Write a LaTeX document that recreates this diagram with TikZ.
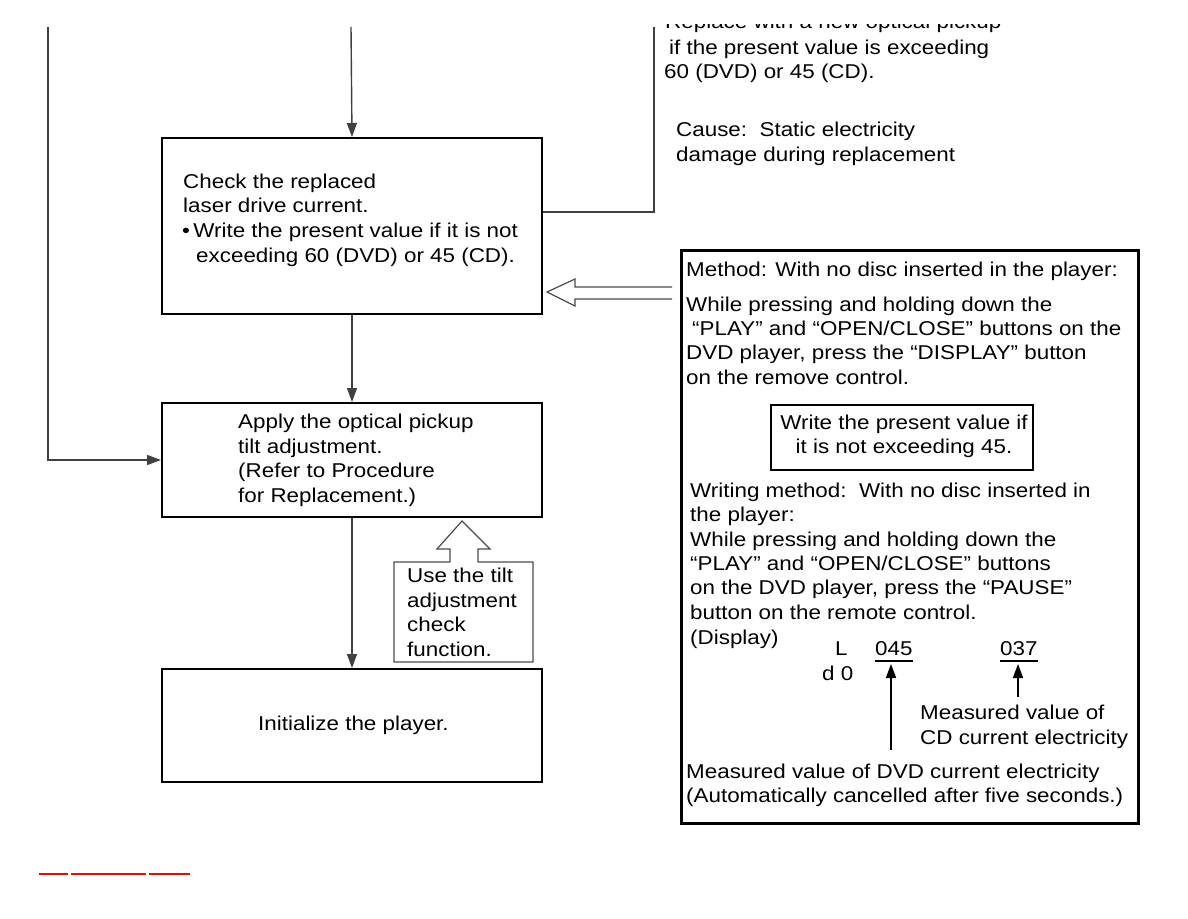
\documentclass[tikz,border=0pt]{standalone}
\usepackage{fontspec}
\setmainfont[FakeStretch=1.12]{Liberation Sans}
\usetikzlibrary{arrows.meta}
\begin{document}
\begin{tikzpicture}[x=1pt,y=-1pt,
  txt/.style={anchor=base west,inner sep=0pt,font=\fontsize{20}{24}\selectfont},
  boxline/.style={draw=black,line width=2pt},
  conn/.style={draw=black!75,line width=1.4pt},
  arr/.style={conn,-{Triangle[length=14pt,width=10pt]}},
  hollow/.style={draw=black!70,line width=1.2pt,fill=white}]
\useasboundingbox (0,0) rectangle (1188,918);
\begin{scope}
\clip (0,24) rectangle (1188,918);
% boxes
\node[boxline,minimum width=380pt,minimum height=176pt,anchor=north west,inner sep=0pt] (b1) at (161,137) {};
\node[boxline,minimum width=380pt,minimum height=114pt,anchor=north west,inner sep=0pt] (b2) at (161,402) {};
\node[boxline,minimum width=380pt,minimum height=113pt,anchor=north west,inner sep=0pt] (b3) at (161,668) {};
\node[draw=black,line width=2.6pt,minimum width=457pt,minimum height=573pt,anchor=north west,inner sep=0pt] (rb) at (680,249) {};
\node[boxline,minimum width=262pt,minimum height=65pt,anchor=north west,inner sep=0pt] (ib) at (770,404) {};
% coordinates for free ends
\coordinate (topA) at (351,27);
\coordinate (leftTop) at (48,27);
\coordinate (leftBot) at (48,460);
\coordinate (rTop) at (654,27);
\coordinate (rMid) at (654,212);
% connectors
\draw[arr] (topA) -- (b1.north);
\draw[arr] (leftTop) -- (leftBot) -- (b2.west |- leftBot);
\draw[conn] (b1.east |- rMid) -- (rMid) -- (rTop);
\draw[arr] (b1.south) -- (b2.north);
\draw[arr] (b2.south) -- (b3.north);
% hollow left arrow
\draw[hollow] (672,287) -- (575,287) -- (575,279) -- (547,292) -- (575,306) -- (575,299) -- (672,299);
% hollow up arrow with box
\draw[hollow] (394,562) -- (450,562) -- (450,549) -- (437,549) -- (462,521) -- (490,549) -- (478,549) -- (478,562) -- (533,562) -- (533,662) -- (394,662) -- cycle;
\node[txt] (u1) at (407,582) {Use the tilt};
\node[txt] (u2) at (407,607) {adjustment};
\node[txt] (u3) at (407,631) {check};
\node[txt] (u4) at (407,656) {function.};
% top right texts
\node[txt] (t0) at (665,28) {Replace with a new optical pickup};
\node[txt] (t1) at (669,54) {if the present value is exceeding};
\node[txt] (t2) at (664,78) {60 (DVD) or 45 (CD).};
\node[txt] (c1) at (676,136) {Cause:\ \ Static electricity};
\node[txt] (c2) at (676,161) {damage during replacement};
% box1 text
\node[txt] (a1) at (183,188) {Check the replaced};
\node[txt] (a2) at (183,212) {laser drive current.};
\node[txt] (a3) at (182,237) {\textbullet\,Write the present value if it is not};
\node[txt] (a4) at (196,262) {exceeding 60 (DVD) or 45 (CD).};
% box2 text
\node[txt] (p1) at (238,428) {Apply the optical pickup};
\node[txt] (p2) at (238,453) {tilt adjustment.};
\node[txt] (p3) at (238,477) {(Refer to Procedure};
\node[txt] (p4) at (238,502) {for Replacement.)};
% box3
\node[txt] (i1) at (258,730) {Initialize the player.};
% right box text
\node[txt] (m1) at (686,276) {Method: With no disc inserted in the player:};
\node[txt] (m2) at (686,311) {While pressing and holding down the};
\node[txt] (m3) at (692,335) {“PLAY” and “OPEN/CLOSE” buttons on the};
\node[txt] (m4) at (686,359) {DVD player, press the “DISPLAY” button};
\node[txt] (m5) at (686,384) {on the remove control.};
\node[txt,anchor=base] (w1) at (904,429) {Write the present value if};
\node[txt,anchor=base] (w2) at (904,453) {it is not exceeding 45.};
\node[txt] (n1) at (690,497) {Writing method:\ \ With no disc inserted in};
\node[txt] (n2) at (690,521) {the player:};
\node[txt] (n3) at (690,546) {While pressing and holding down the};
\node[txt] (n4) at (690,570) {“PLAY” and “OPEN/CLOSE” buttons};
\node[txt] (n5) at (690,594) {on the DVD player, press the “PAUSE”};
\node[txt] (n6) at (690,619) {button on the remote control.};
\node[txt] (n7) at (690,644) {(Display)};
\node[txt] (dL) at (835,655) {L};
\node[txt] (d0) at (822,680) {d 0};
\node[txt] (v1) at (875,655) {045};
\node[txt] (v2) at (1000,655) {037};
\draw[line width=1.4pt] (v1.west |- 0,661) -- (v1.east |- 0,661);
\draw[line width=1.4pt] (v2.west |- 0,661) -- (v2.east |- 0,661);
\coordinate (dvdA) at (891,750);
\coordinate (cdA) at (1018,697);
\draw[line width=1.6pt,-{Triangle[length=14pt,width=10pt]}] (dvdA) -- (891,664);
\draw[line width=1.6pt,-{Triangle[length=14pt,width=10pt]}] (cdA) -- (1018,664);
\node[txt] (cd1) at (920,719) {Measured value of};
\node[txt] (cd2) at (920,744) {CD current electricity};
\node[txt] (dv1) at (686,778) {Measured value of DVD current electricity};
\node[txt] (dv2) at (686,802) {(Automatically cancelled after five seconds.)};
\end{scope}
% red link lines
\draw[red,line width=1.2pt] (39,874) -- (68,874);
\draw[red,line width=1.2pt] (71,874) -- (146,874);
\draw[red,line width=1.2pt] (149,874) -- (190,874);
\end{tikzpicture}
\end{document}
